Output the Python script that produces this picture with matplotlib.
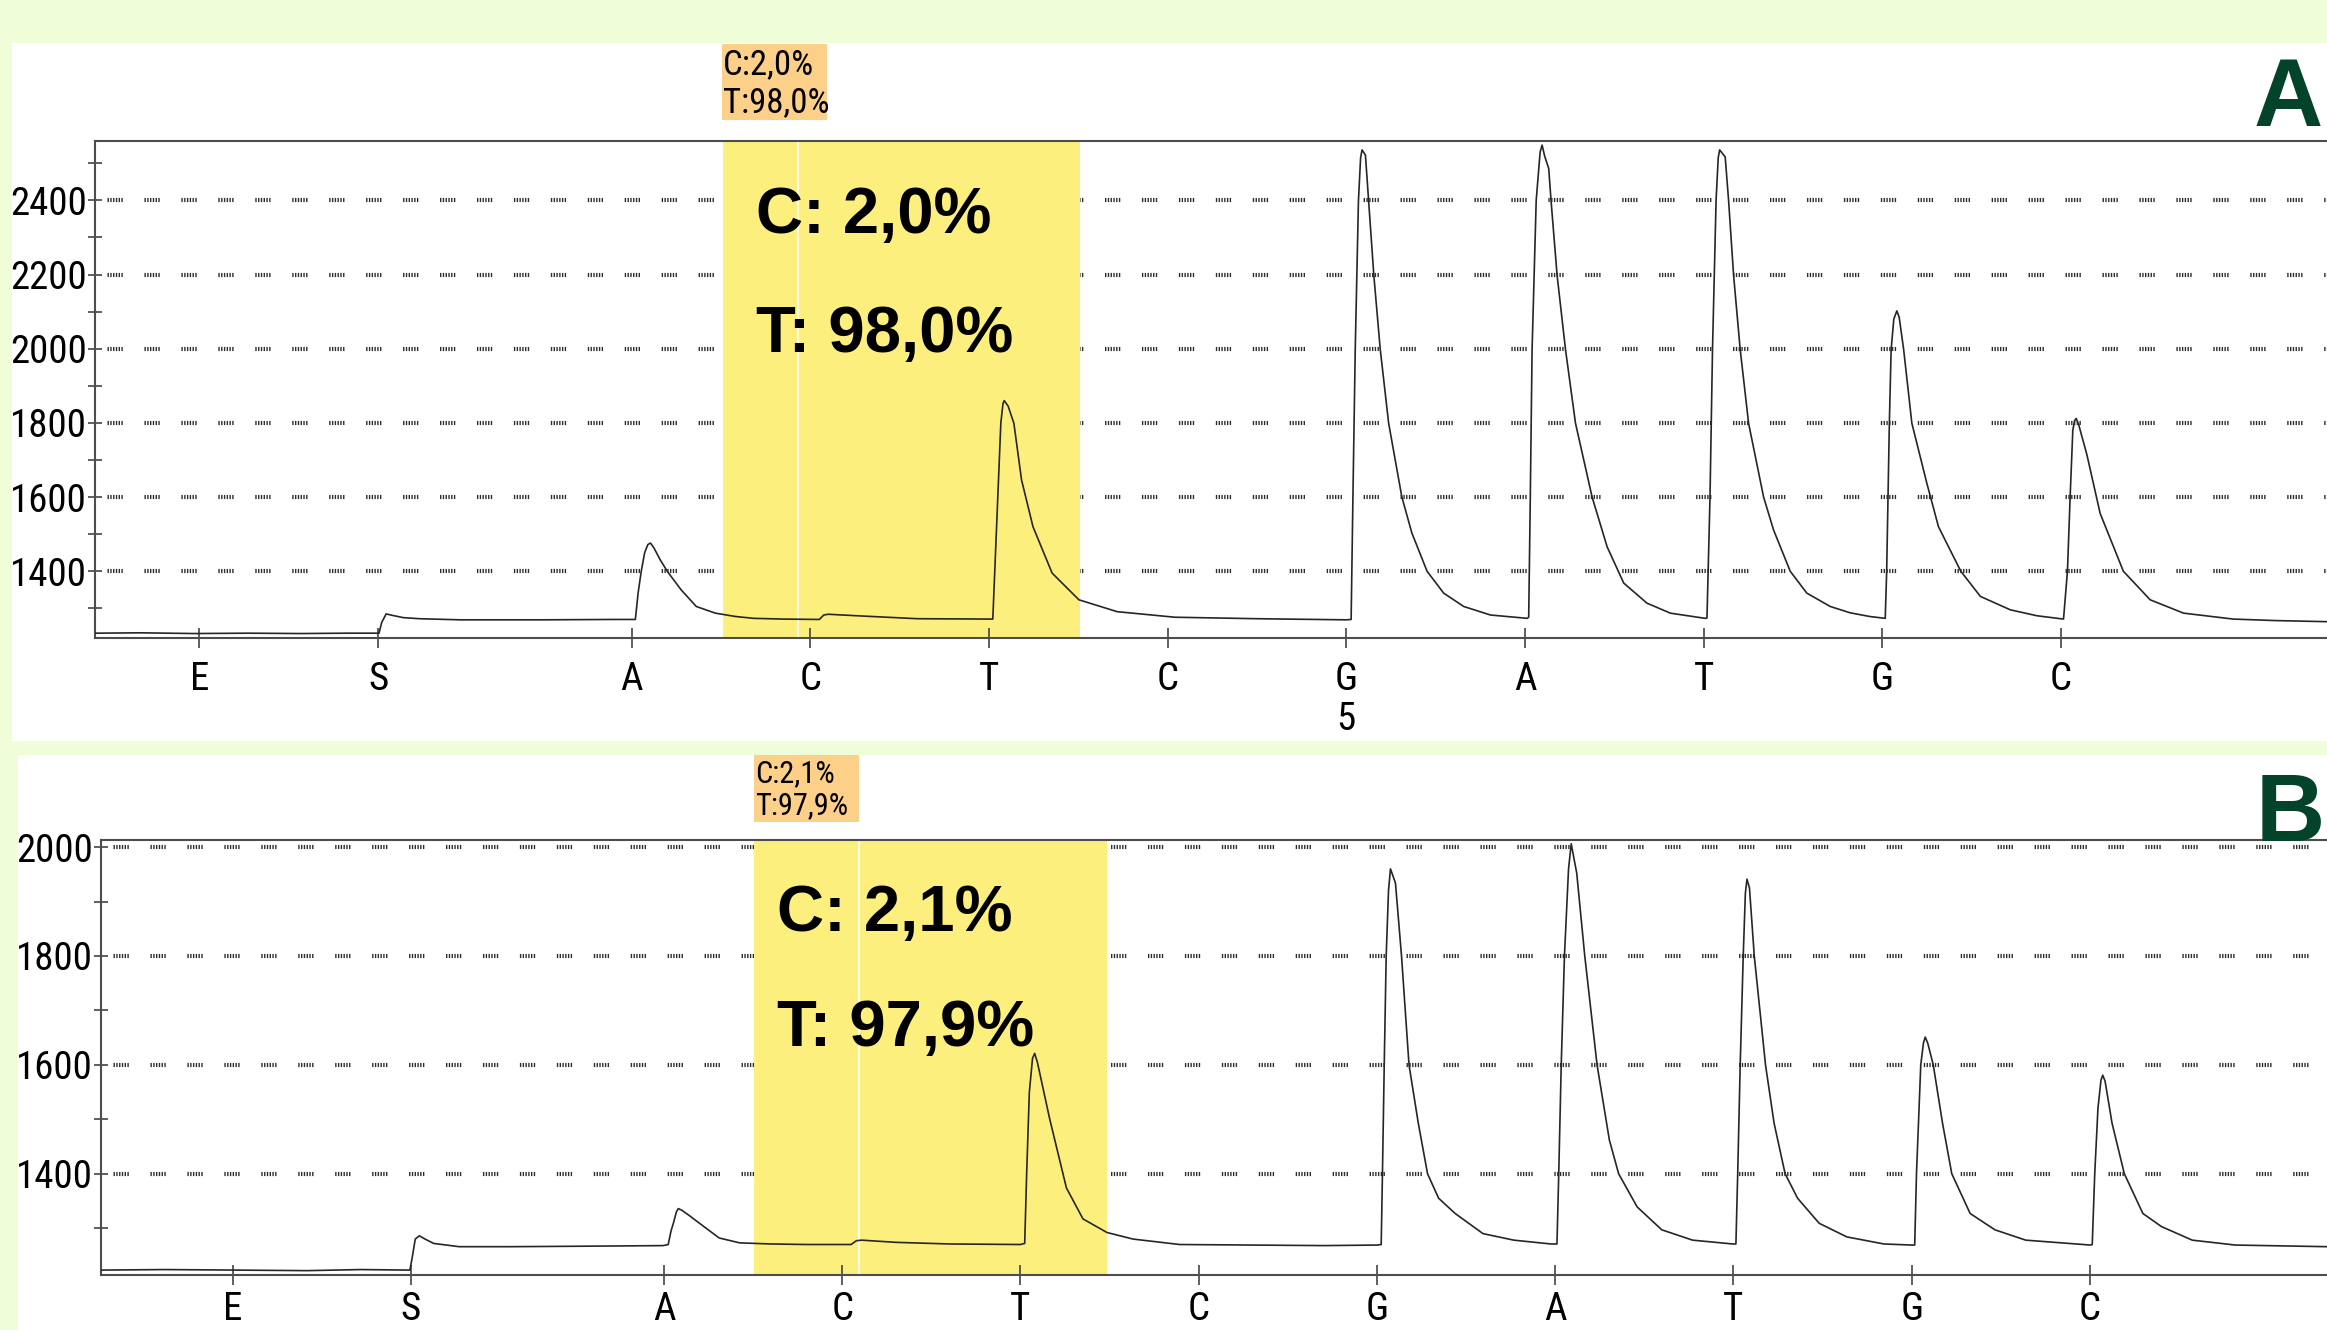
import matplotlib
matplotlib.use('Agg')
import matplotlib.pyplot as plt
from matplotlib import font_manager
from matplotlib.patches import Rectangle
from matplotlib.ticker import MultipleLocator, NullLocator

plt.rcParams['lines.scale_dashes'] = False

# dispensation order and positions (x in dispensation units)
bases = ['E', 'S', 'A', 'C', 'T', 'C', 'G', 'A', 'T', 'G', 'C']
base_pos = [0.58, 1.58, 3, 4, 5, 6, 7, 8, 9, 10, 11]

# panel A pyrogram trace
trace_a_x = [0.00, 0.25, 0.55, 0.85, 1.15, 1.40, 1.585,
             1.600, 1.625, 1.66, 1.72, 1.81, 2.04, 2.5, 2.9, 3.02,
             3.035, 3.053, 3.072, 3.09, 3.105, 3.125, 3.16, 3.20, 3.276, 3.361, 3.468, 3.58, 3.682, 3.85,
             4.05, 4.075, 4.10, 4.3, 4.6, 5.0, 5.021,
             5.032, 5.049, 5.066, 5.078, 5.085, 5.107, 5.139, 5.182, 5.246, 5.353, 5.503, 5.717, 6.04, 6.5, 7.0, 7.027,
             7.037, 7.05, 7.068, 7.08, 7.088, 7.107, 7.154, 7.19, 7.237, 7.311, 7.367, 7.452, 7.545, 7.657, 7.807, 8.012,
             8.021, 8.03, 8.04, 8.063, 8.085, 8.096, 8.11, 8.133, 8.146, 8.18, 8.227, 8.283, 8.376, 8.46, 8.553, 8.683, 8.814, 9.009,
             9.019, 9.036, 9.05, 9.07, 9.082, 9.09, 9.121, 9.14, 9.168, 9.205, 9.252, 9.336, 9.392, 9.485, 9.578, 9.709, 9.82, 9.93, 10.017,
             10.025, 10.04, 10.05, 10.065, 10.082, 10.095, 10.12, 10.166, 10.25, 10.315, 10.44, 10.55, 10.717, 10.866, 11.015,
             11.037, 11.052, 11.067, 11.077, 11.086, 11.1, 11.146, 11.22, 11.35, 11.5, 11.687, 11.966, 12.2, 12.49]
trace_a_y = [1233, 1234, 1232, 1233, 1232, 1233, 1233,
             1262, 1285, 1281, 1275, 1272, 1269, 1269, 1270, 1270,
             1340, 1400, 1450, 1472, 1476, 1462, 1430, 1399, 1350, 1305, 1287, 1278, 1273, 1271,
             1270, 1282, 1284, 1279, 1272, 1271, 1271,
             1400, 1600, 1800, 1852, 1860, 1845, 1799, 1646, 1520, 1395, 1323, 1291, 1276, 1272, 1269, 1270,
             1600, 1998, 2400, 2515, 2536, 2522, 2198, 1998, 1799, 1600, 1503, 1400, 1341, 1305, 1282, 1273,
             1276, 1600, 1998, 2400, 2530, 2549, 2520, 2486, 2400, 2198, 1998, 1799, 1600, 1466, 1368, 1314, 1287, 1273,
             1274, 1600, 1998, 2400, 2515, 2536, 2517, 2400, 2198, 1998, 1799, 1600, 1511, 1400, 1341, 1305, 1288, 1278, 1273,
             1400, 1799, 1998, 2080, 2102, 2085, 1998, 1799, 1637, 1520, 1400, 1332, 1296, 1280, 1271,
             1400, 1600, 1780, 1806, 1812, 1795, 1714, 1556, 1400, 1323, 1287, 1271, 1267, 1264]

# panel B pyrogram trace
trace_b_x = [-0.158, 0.2, 0.6, 1.0, 1.3, 1.575,
             1.59, 1.605, 1.628, 1.66, 1.708, 1.851, 2.137, 2.6, 2.996,
             3.024, 3.04, 3.053, 3.07, 3.081, 3.1, 3.139, 3.224, 3.31, 3.425, 3.6, 3.8,
             4.05, 4.08, 4.11, 4.3, 4.6, 5.0, 5.024,
             5.035, 5.05, 5.068, 5.08, 5.095, 5.164, 5.258, 5.351, 5.486, 5.632, 5.893, 6.3, 6.7, 7.0, 7.024,
             7.031, 7.041, 7.052, 7.065, 7.076, 7.104, 7.138, 7.18, 7.232, 7.284, 7.346, 7.439, 7.595, 7.768, 7.976, 8.01,
             8.02, 8.034, 8.052, 8.075, 8.09, 8.121, 8.166, 8.235, 8.304, 8.356, 8.46, 8.598, 8.771, 8.996, 9.014,
             9.024, 9.038, 9.055, 9.067, 9.076, 9.09, 9.117, 9.18, 9.228, 9.29, 9.36, 9.481, 9.636, 9.844, 10.0, 10.017,
             10.027, 10.051, 10.066, 10.076, 10.09, 10.121, 10.173, 10.225, 10.328, 10.467, 10.64, 11.003, 11.013,
             11.027, 11.045, 11.062, 11.072, 11.085, 11.124, 11.193, 11.297, 11.401, 11.574, 11.816, 12.33]
trace_b_y = [1223, 1224, 1223, 1222, 1224, 1223,
             1250, 1280, 1286, 1280, 1272, 1266, 1266, 1267, 1268,
             1270, 1295, 1309, 1330, 1336, 1333, 1324, 1303, 1282, 1273, 1271, 1270,
             1270, 1277, 1278, 1274, 1271, 1270, 1272,
             1400, 1550, 1612, 1621, 1605, 1501, 1374, 1317, 1292, 1280, 1270, 1269, 1268, 1269, 1270,
             1400, 1600, 1800, 1920, 1960, 1934, 1800, 1600, 1493, 1400, 1355, 1327, 1290, 1278, 1271, 1271,
             1400, 1600, 1800, 1960, 2006, 1952, 1800, 1600, 1462, 1400, 1339, 1297, 1278, 1271, 1271,
             1400, 1600, 1800, 1915, 1941, 1925, 1800, 1600, 1493, 1400, 1355, 1309, 1284, 1271, 1269, 1269,
             1400, 1600, 1640, 1651, 1640, 1600, 1493, 1400, 1327, 1297, 1278, 1269, 1270,
             1400, 1520, 1572, 1581, 1570, 1493, 1400, 1327, 1303, 1278, 1269, 1266]

# allele frequencies shown in each panel
alleles = ['C', 'T']
freq_a = ['2,0', '98,0']
freq_b = ['2,1', '97,9']

W, H = 2327, 1330
GREEN = '#f0fdd9'
YELLOW = '#fdef7e'
ORANGE = '#fdd08a'
DARK = '#03432a'

avail = {f.name for f in font_manager.fontManager.ttflist}
narrow = None
for n in ['Liberation Sans Narrow', 'Arial Narrow', 'Roboto Condensed', 'Open Sans Condensed']:
    if n in avail:
        narrow = n
        break
if narrow is None:
    narrow = 'Liberation Sans'
    tick_fs, box_fs = 25, 22
else:
    tick_fs, box_fs = 28, 25
plt.rcParams['font.family'] = [narrow, 'DejaVu Sans']
bold_font = dict(family=['Liberation Sans', 'DejaVu Sans'], fontweight='bold')


def fy(py):
    return 1 - py / H


fig = plt.figure(figsize=(W / 100, H / 100), dpi=100, facecolor=GREEN)

# white panel backgrounds
fig.patches.append(Rectangle((12 / W, fy(741)), 1, (741 - 43) / H, transform=fig.transFigure,
                             fc='white', ec='none', zorder=-1))
fig.patches.append(Rectangle((18 / W, 0), 1, fy(755), transform=fig.transFigure,
                             fc='white', ec='none', zorder=-1))

grid_ls = (17.6, (1, 1, 1, 1, 1, 1, 1, 1, 1, 1, 1, 15.6))


def panel(rect, tx, ty, xlim, ylim, majors, span, white_x, freqs, text_x, text_ys, xpad):
    ax = fig.add_axes(rect)
    ax.set_xlim(*xlim)
    ax.set_ylim(*ylim)
    for v in majors:
        ax.axhline(v, color='#2e2e2e', lw=3.0, linestyle=grid_ls, zorder=0.8)
    ax.axvspan(span[0], span[1], color=YELLOW, lw=0, zorder=1)
    ax.axvline(white_x, color='white', lw=1.2, zorder=1.1)
    ax.plot(tx, ty, color='#262626', lw=1.2, zorder=3)
    for a, f, yv in zip(alleles, freqs, text_ys):
        ax.text(text_x, yv, f'{a}: {f}%', fontsize=47, va='baseline', ha='left', zorder=4, **bold_font)

    ax.set_yticks(majors)
    ax.set_yticklabels([str(v) for v in majors])
    ax.yaxis.set_minor_locator(MultipleLocator(100))
    ax.set_xticks(base_pos)
    ax.set_xticklabels(bases)
    ax.xaxis.set_minor_locator(NullLocator())
    ax.tick_params(axis='y', which='both', direction='inout', length=10, width=1.2,
                   color='#444444', pad=1, labelsize=tick_fs)
    ax.tick_params(axis='x', direction='inout', length=15, width=1.2,
                   color='#444444', pad=xpad, labelsize=tick_fs)
    for s in ['left', 'bottom', 'top']:
        ax.spines[s].set_color('#4d4d4d')
        ax.spines[s].set_linewidth(1.5)
    ax.spines['right'].set_visible(False)
    return ax


ax_a = panel([95 / W, fy(638), 1 - 95 / W, (638 - 141) / H], trace_a_x, trace_a_y,
             (-0.005, 12.49), (1220, 2560), [1400, 1600, 1800, 2000, 2200, 2400],
             (3.511, 5.51), 3.93, freq_a, 3.694, [2312, 1991], 9)
ax_a.text(7, -0.163, '5', transform=ax_a.get_xaxis_transform(), ha='center', va='center',
          fontsize=tick_fs)

ax_b = panel([101 / W, fy(1275), 1 - 101 / W, (1275 - 840) / H], trace_b_x, trace_b_y,
             (-0.158, 12.33), (1214, 2013), [1400, 1600, 1800, 2000],
             (3.504, 5.486), 4.095, freq_b, 3.633, [1846, 1634], 4)

# small result boxes above the highlighted region
for x0, y_top, y_bot, freqs, base1, base2, fs in [
        (722, 44, 120, freq_a, 74, 112, box_fs),
        (754, 755, 822, freq_b, 782, 814, box_fs - 3)]:
    fig.patches.append(Rectangle((x0 / W, fy(y_bot)), 105 / W, (y_bot - y_top) / H,
                                 transform=fig.transFigure, fc=ORANGE, ec='none', zorder=1))
    for a, f, b in zip(alleles, freqs, [base1, base2]):
        fig.text((x0 + 1) / W, fy(b), f'{a}:{f}%', fontsize=fs, va='baseline', ha='left', zorder=2)

fig.text(2254 / W, fy(126), 'A', fontsize=69, color=DARK, va='baseline', ha='left', zorder=3, **bold_font)
fig.text(2325 / W, fy(841), 'B', fontsize=69, color=DARK, va='baseline', ha='right', zorder=3, **bold_font)

fig.savefig('out.png', dpi=100, facecolor=GREEN)
